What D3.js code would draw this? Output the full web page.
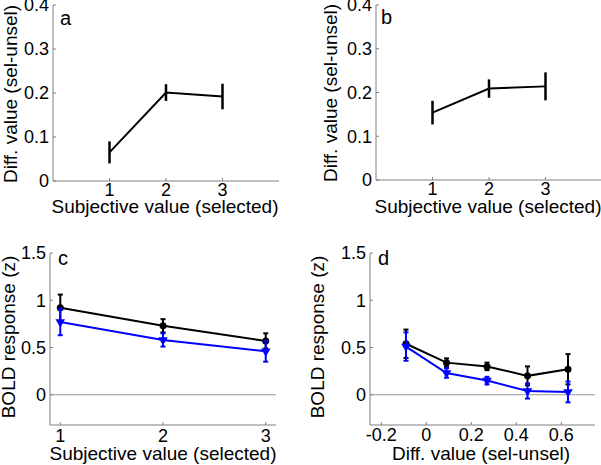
<!DOCTYPE html>
<html lang="en">
<head>
<meta charset="UTF-8">
<title>Diff value and BOLD response</title>
<script src="https://d3js.org/d3.v7.min.js"></script>
<style>
  body { margin: 0; background: #fff; }
  text { font-family: "Liberation Sans", Arial, sans-serif; fill: #000; }
</style>
</head>
<body>
<script>
// values
var subjX = [1, 2, 3];
var aMean = [0.065, 0.201, 0.192], aErr = [0.025, 0.019, 0.029];
var bMean = [0.154, 0.209, 0.214], bErr = [0.027, 0.021, 0.032];

var cBlack = [0.92, 0.73, 0.57], cBlackErr = [0.14, 0.07, 0.08];
var cBlue = [0.77, 0.58, 0.46], cBlueErr = [0.14, 0.07, 0.11];

var dX = [-0.09, 0.09, 0.27, 0.45, 0.63];
var dBlack = [0.54, 0.34, 0.30, 0.20, 0.27], dBlackErr = [0.15, 0.045, 0.04, 0.10, 0.16];
var dBlue = [0.51, 0.23, 0.15, 0.04, 0.03], dBlueErr = [0.15, 0.05, 0.04, 0.08, 0.11];

var diffTicks = [0, 0.1, 0.2, 0.3, 0.4];
var boldTicks = [0, 0.5, 1, 1.5];
var dTicks = [-0.2, 0, 0.2, 0.4, 0.6];

var width = 601, height = 465;
var axisCol = "#808080";

var svg = d3.select("body").append("svg")
  .attr("width", width)
  .attr("height", height);

function fmt(v) {
  if (v === 0) return "0";
  return String(Math.round(v * 10) / 10);
}

function panel(opt) {
  var x = d3.scaleLinear().domain(opt.xDomain).range(opt.xRange);
  var y = d3.scaleLinear().domain(opt.yDomain).range(opt.yRange);
  var g = svg.append("g");

  // axis lines
  g.append("line")
    .attr("x1", opt.xRange[0]).attr("x2", opt.xRange[1])
    .attr("y1", opt.yRange[0]).attr("y2", opt.yRange[0])
    .attr("stroke", axisCol).attr("stroke-width", 1);
  g.append("line")
    .attr("x1", opt.xRange[0]).attr("x2", opt.xRange[0])
    .attr("y1", opt.yRange[0]).attr("y2", opt.yRange[1])
    .attr("stroke", axisCol).attr("stroke-width", 1);

  // zero line
  if (opt.zeroLine) {
    g.append("line")
      .attr("x1", opt.xRange[0]).attr("x2", opt.xRange[1])
      .attr("y1", y(0)).attr("y2", y(0))
      .attr("stroke", "#999").attr("stroke-width", 1);
  }

  // x ticks
  opt.xTicks.forEach(function(t) {
    g.append("line")
      .attr("x1", x(t)).attr("x2", x(t))
      .attr("y1", opt.yRange[0]).attr("y2", opt.yRange[0] - 3)
      .attr("stroke", axisCol);
    g.append("text")
      .attr("x", x(t)).attr("y", opt.yRange[0] + opt.xLabelOff)
      .attr("text-anchor", "middle")
      .style("font-size", "18px")
      .text(opt.xFmt ? opt.xFmt(t) : t);
  });

  // y ticks
  opt.yTicks.forEach(function(t) {
    g.append("line")
      .attr("x1", opt.xRange[0]).attr("x2", opt.xRange[0] + 3)
      .attr("y1", y(t)).attr("y2", y(t))
      .attr("stroke", axisCol);
    g.append("text")
      .attr("x", opt.xRange[0] - opt.yLabelOff).attr("y", y(t))
      .attr("dy", "0.36em")
      .attr("text-anchor", "end")
      .style("font-size", "18px")
      .text(fmt(t));
  });

  // titles
  g.append("text")
    .attr("x", opt.xTitle[0]).attr("y", opt.xTitle[1])
    .attr("text-anchor", "middle")
    .style("font-size", "19px")
    .text(opt.xLabel);
  g.append("text")
    .attr("transform", "translate(" + opt.yTitle[0] + "," + opt.yTitle[1] + ") rotate(-90)")
    .attr("text-anchor", "middle")
    .style("font-size", "19px")
    .text(opt.yLabel);
  g.append("text")
    .attr("x", opt.letter[0]).attr("y", opt.letter[1])
    .style("font-size", "20px")
    .text(opt.letterText);

  return { g: g, x: x, y: y };
}

// simple line + vertical error bars (panels a and b)
function thickSeries(p, xs, ys, es) {
  var line = d3.line().x(function(d, i) { return p.x(xs[i]); }).y(function(d) { return p.y(d); });
  p.g.append("path").datum(ys)
    .attr("d", line)
    .attr("fill", "none").attr("stroke", "#000").attr("stroke-width", 2);
  p.g.selectAll(null).data(ys).enter().append("line")
    .attr("x1", function(d, i) { return p.x(xs[i]); })
    .attr("x2", function(d, i) { return p.x(xs[i]); })
    .attr("y1", function(d, i) { return p.y(d - es[i]); })
    .attr("y2", function(d, i) { return p.y(d + es[i]); })
    .attr("stroke", "#000").attr("stroke-width", 2.5);
}

// line with markers and capped error bars (panels c and d)
function markedSeries(p, xs, ys, es, col, shape) {
  var line = d3.line().x(function(d, i) { return p.x(xs[i]); }).y(function(d) { return p.y(d); });
  p.g.append("path").datum(ys)
    .attr("d", line)
    .attr("fill", "none").attr("stroke", col).attr("stroke-width", 2);
  var eb = p.g.selectAll(null).data(ys).enter().append("g");
  eb.append("line")
    .attr("x1", function(d, i) { return p.x(xs[i]); })
    .attr("x2", function(d, i) { return p.x(xs[i]); })
    .attr("y1", function(d, i) { return p.y(d - es[i]); })
    .attr("y2", function(d, i) { return p.y(d + es[i]); })
    .attr("stroke", col).attr("stroke-width", 2);
  [-1, 1].forEach(function(s) {
    eb.append("line")
      .attr("x1", function(d, i) { return p.x(xs[i]) - 2.5; })
      .attr("x2", function(d, i) { return p.x(xs[i]) + 2.5; })
      .attr("y1", function(d, i) { return p.y(d + s * es[i]); })
      .attr("y2", function(d, i) { return p.y(d + s * es[i]); })
      .attr("stroke", col).attr("stroke-width", 2);
  });
  if (shape === "circle") {
    p.g.selectAll(null).data(ys).enter().append("circle")
      .attr("cx", function(d, i) { return p.x(xs[i]); })
      .attr("cy", function(d) { return p.y(d); })
      .attr("r", 3.5).attr("fill", col);
  } else {
    p.g.selectAll(null).data(ys).enter().append("path")
      .attr("d", d3.symbol().type(d3.symbolTriangle).size(40))
      .attr("transform", function(d, i) {
        return "translate(" + p.x(xs[i]) + "," + p.y(d) + ") rotate(180)";
      })
      .attr("fill", col);
  }
}

var pa = panel({
  xDomain: [0, 4], xRange: [53, 279], yDomain: [0, 0.4], yRange: [181, 5],
  xTicks: subjX, yTicks: diffTicks, xLabelOff: 15, yLabelOff: 4,
  xLabel: "Subjective value (selected)", yLabel: "Diff. value (sel-unsel)",
  xTitle: [165, 213], yTitle: [17, 94], letter: [60, 25], letterText: "a"
});
thickSeries(pa, subjX, aMean, aErr);

var pb = panel({
  xDomain: [0, 4], xRange: [376, 602], yDomain: [0, 0.4], yRange: [180, 5],
  xTicks: subjX, yTicks: diffTicks, xLabelOff: 15, yLabelOff: 4,
  xLabel: "Subjective value (selected)", yLabel: "Diff. value (sel-unsel)",
  xTitle: [488, 213], yTitle: [337, 93], letter: [381, 24], letterText: "b"
});
thickSeries(pb, subjX, bMean, bErr);

var pc = panel({
  xDomain: [0.9, 3.1], xRange: [50, 276], yDomain: [-0.32, 1.5], yRange: [425, 253],
  xTicks: subjX, yTicks: boldTicks, xLabelOff: 17, yLabelOff: 4, zeroLine: true,
  xLabel: "Subjective value (selected)", yLabel: "BOLD response (z)",
  xTitle: [163, 460], yTitle: [15, 337], letter: [58, 265], letterText: "c"
});
markedSeries(pc, subjX, cBlack, cBlackErr, "#000", "circle");
markedSeries(pc, subjX, cBlue, cBlueErr, "#0000ff", "triangle");

var pd = panel({
  xDomain: [-0.25, 0.75], xRange: [370, 595], yDomain: [-0.32, 1.5], yRange: [425, 253],
  xTicks: dTicks, yTicks: boldTicks, xLabelOff: 16, yLabelOff: 4, zeroLine: true,
  xFmt: fmt,
  xLabel: "Diff. value (sel-unsel)", yLabel: "BOLD response (z)",
  xTitle: [481, 460], yTitle: [324, 337], letter: [378, 265], letterText: "d"
});
markedSeries(pd, dX, dBlack, dBlackErr, "#000", "circle");
markedSeries(pd, dX, dBlue, dBlueErr, "#0000ff", "triangle");
</script>
</body>
</html>
